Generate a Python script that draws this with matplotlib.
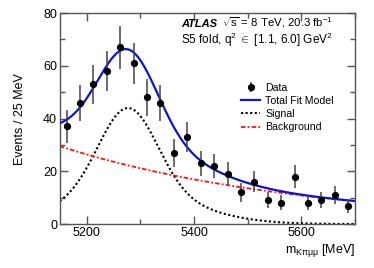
import numpy as np
import matplotlib
matplotlib.use('Agg')
import matplotlib.pyplot as plt
from matplotlib.ticker import MultipleLocator

plt.rcParams['font.family'] = ['Liberation Sans', 'DejaVu Sans']
plt.rcParams['mathtext.fontset'] = 'custom'
plt.rcParams['mathtext.rm'] = 'Liberation Sans'
plt.rcParams['mathtext.it'] = 'Liberation Sans'
plt.rcParams['mathtext.bf'] = 'Liberation Sans:bold'

# data (25 MeV bins)
bin_centers = np.arange(5162.5, 5700, 25)
events = [37, 46, 53, 58, 67, 61, 48, 46, 27, 33, 23, 22, 19, 12, 16, 9, 8, 18, 8, 9, 11, 7]

# fit model parameters (estimated from the drawn curves)
sig_mean = 5277.0
core_amp, core_sigma = 32.0, 54.0
tail_amp, tail_sigma = 12.0, 118.0
bkg_amp, bkg_slope = 29.5, 0.00222


def signal(m):
    return (core_amp * np.exp(-0.5 * ((m - sig_mean) / core_sigma) ** 2)
            + tail_amp * np.exp(-0.5 * ((m - sig_mean) / tail_sigma) ** 2))


def background(m):
    return bkg_amp * np.exp(-bkg_slope * (m - 5150))


fig = plt.figure(figsize=(3.74, 2.68), dpi=100)
ax = fig.add_axes([0.160, 0.164, 0.789, 0.787])

m = np.linspace(5150, 5700, 400)
errs = np.sqrt(events)
data = ax.errorbar(bin_centers, events, yerr=errs, fmt='o', color='black', ecolor='#444444',
                   elinewidth=1.1, markersize=4.2, capsize=0, label='Data', zorder=4)
total, = ax.plot(m, signal(m) + background(m), color='#0a14d8', lw=1.6, label='Total Fit Model', zorder=3)
sig, = ax.plot(m, signal(m), color='black', lw=1.5, ls=(0, (1, 1.2)), label='Signal', zorder=2)
bkg, = ax.plot(m, background(m), color='#ff1010', lw=1.3, ls=(0, (2.5, 1.2, 1, 1.2)), label='Background', zorder=2)

ax.set_xlim(5150, 5700)
ax.set_ylim(0, 80)
ax.xaxis.set_major_locator(MultipleLocator(200))
ax.xaxis.set_minor_locator(MultipleLocator(100))
ax.yaxis.set_major_locator(MultipleLocator(20))
ax.yaxis.set_minor_locator(MultipleLocator(10))
ax.tick_params(which='both', direction='in', top=True, right=True, labelsize=9, color='#555555')
ax.tick_params(which='major', length=6, width=1.0, pad=2)
ax.tick_params(which='minor', length=3.5, width=1.0)
for s in ax.spines.values():
    s.set_color('#555555')
    s.set_linewidth(1.0)

ax.set_ylabel('Events / 25 MeV', fontsize=9, labelpad=12)
ax.set_xlabel(r'$\mathrm{m}_{\mathrm{K\pi\mu\mu}}$ [MeV]', fontsize=9, loc='right', labelpad=2)

ax.text(0.41, 0.935, 'ATLAS', transform=ax.transAxes, fontsize=8, fontweight='bold', fontstyle='italic')
ax.text(0.55, 0.935, r'$\sqrt{s}$ = 8 TeV, 20.3 fb$^{-1}$', transform=ax.transAxes, fontsize=8.2)
ax.text(0.41, 0.855, r'S5 fold, q$^2$ $\in$ [1.1, 6.0] GeV$^2$', transform=ax.transAxes, fontsize=8.5)

ax.legend(handles=[data, total, sig, bkg], loc='upper left', bbox_to_anchor=(0.6, 0.69), frameon=False,
          fontsize=7.6, handlelength=1.8, handletextpad=0.5, labelspacing=0.3, borderaxespad=0)

fig.savefig('out.png', dpi=100)
